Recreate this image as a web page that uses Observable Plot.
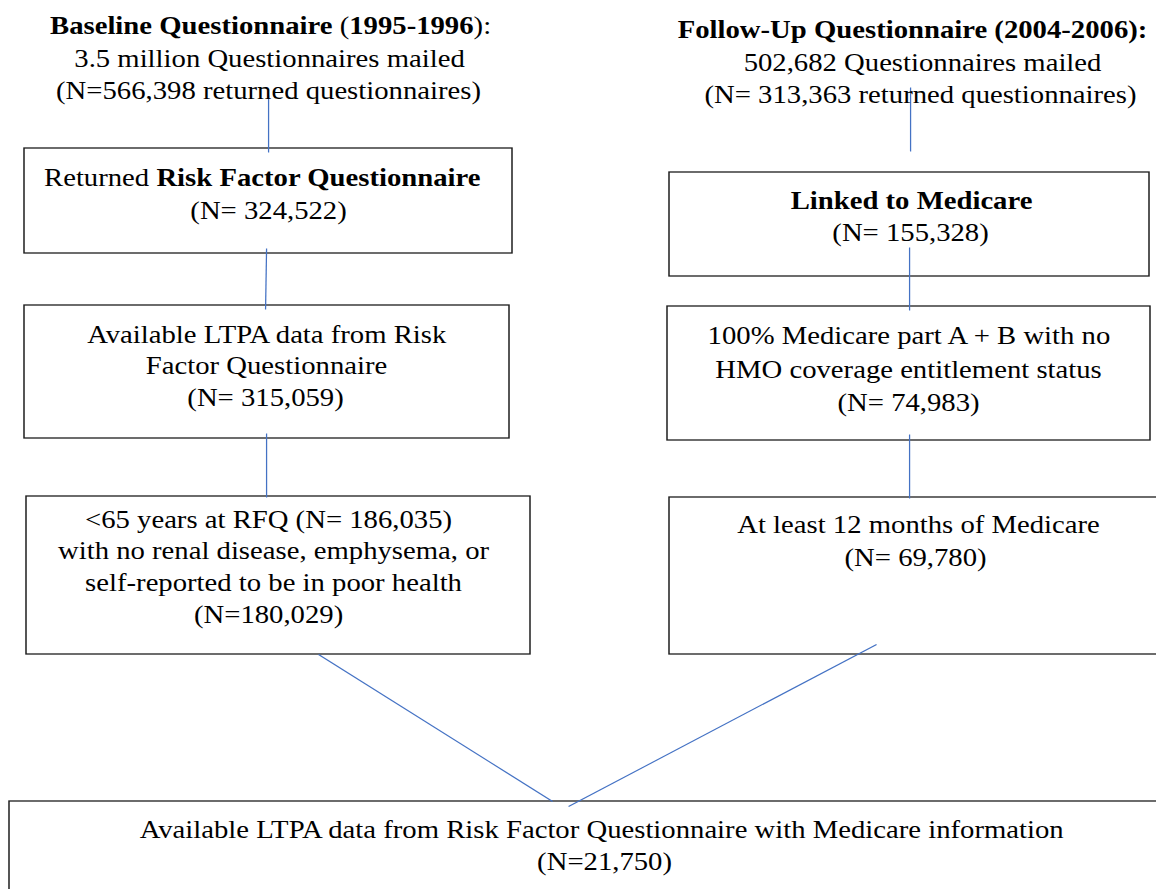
<!DOCTYPE html>
<html><head><meta charset="utf-8">
<script src="https://cdn.jsdelivr.net/npm/d3@7"></script>
<script src="https://cdn.jsdelivr.net/npm/@observablehq/plot@0.6"></script>
<style>html,body{margin:0;padding:0;background:#fff;overflow:hidden;} #chart svg{display:block;}</style>
</head><body><div id="chart"></div>
<script>
// ---- text content (** marks bold runs) ----
const baselineLines = ["**Baseline Questionnaire **(**1995-1996**):", "3.5 million Questionnaires mailed", "(N=566,398 returned questionnaires)"];
const followUpLines = ["**Follow-Up Questionnaire (2004-2006):**", "502,682 Questionnaires mailed", "(N= 313,363 returned questionnaires)"];
const riskFactorLines = ["Returned **Risk Factor Questionnaire**", "(N= 324,522)"];
const ltpaLines = ["Available LTPA data from Risk", "Factor Questionnaire", "(N= 315,059)"];
const ageLines = ["<65 years at RFQ (N= 186,035)", "with no renal disease, emphysema, or", "self-reported to be in poor health", "(N=180,029)"];
const medicareLines = ["**Linked to Medicare**", "(N= 155,328)"];
const partABLines = ["100% Medicare part A + B with no", "HMO coverage entitlement status", "(N= 74,983)"];
const monthsLines = ["At least 12 months of Medicare", "(N= 69,780)"];
const finalLines = ["Available LTPA data from Risk Factor Questionnaire with Medicare information", "(N=21,750)"];

// ---- layout (reference pixel space 1156 x 889) ----
const textLayout = [
  {lines: baselineLines, cx: [270, 269, 268], base: [33, 66, 98]},
  {lines: followUpLines, cx: [912, 922, 920], base: [37, 70, 102]},
  {lines: riskFactorLines, cx: [262, 268], base: [185, 218]},
  {lines: ltpaLines, cx: [267, 266, 265], base: [342, 373, 405]},
  {lines: ageLines, cx: [268, 273, 273, 268], base: [527, 558, 590, 622]},
  {lines: medicareLines, cx: [911, 910], base: [208, 240]},
  {lines: partABLines, cx: [910, 908, 908], base: [343, 377, 410]},
  {lines: monthsLines, cx: [918, 915], base: [532, 565]},
  {lines: finalLines, cx: [602, 604], base: [837, 869]}
];
const boxLayout = [
  {x1: 24, y1: 148, x2: 512, y2: 253},
  {x1: 24, y1: 305, x2: 509, y2: 438},
  {x1: 26, y1: 496, x2: 530, y2: 654},
  {x1: 669, y1: 172, x2: 1149, y2: 276},
  {x1: 667, y1: 306, x2: 1150, y2: 440},
  {x1: 669, y1: 497, x2: 1162, y2: 654},
  {x1: 9, y1: 801, x2: 1170, y2: 900}
];
const linkLayout = [
  {x1: 268, y1: 95, x2: 268, y2: 152},
  {x1: 266, y1: 248, x2: 265, y2: 309},
  {x1: 266, y1: 433, x2: 266, y2: 497},
  {x1: 910, y1: 87, x2: 910, y2: 151},
  {x1: 909, y1: 247, x2: 909, y2: 310},
  {x1: 909, y1: 434, x2: 909, y2: 498},
  {x1: 318, y1: 654, x2: 552, y2: 801},
  {x1: 876, y1: 644, x2: 568, y2: 806}
];

const FONT = "Liberation Serif";
const FS = 25;
const STRETCH = 1.148;
const W = Math.round(1156 / STRETCH);
const H = 889;

const ctx = document.createElement("canvas").getContext("2d");
function measure(t, bold) {
  ctx.font = `${bold ? "bold " : ""}${FS}px "${FONT}"`;
  return ctx.measureText(t).width * (1156 / W);
}
const runs = [];
for (const b of textLayout) {
  b.lines.forEach((line, i) => {
    const parts = line.split("**").map((t, k) => ({text: t, bold: k % 2 === 1})).filter(p => p.text.length);
    const total = d3.sum(parts, p => measure(p.text, p.bold));
    let x = b.cx[i] - total / 2;
    for (const p of parts) {
      runs.push({x, y: b.base[i], text: p.text, bold: p.bold});
      x += measure(p.text, p.bold);
    }
  });
}

const svg = Plot.plot({
  width: W, height: H,
  margin: 0,
  x: {domain: [0, 1156], range: [0, W], axis: null},
  y: {domain: [0, H], range: [0, H], axis: null},
  marks: [
    Plot.rect(boxLayout, {x1: "x1", x2: "x2", y1: "y1", y2: "y2", fill: "white", stroke: "#1e1e1e", strokeWidth: 1.3}),
    Plot.link(linkLayout, {x1: "x1", y1: "y1", x2: "x2", y2: "y2", stroke: "#4472c4", strokeWidth: 1.1}),
    Plot.text(runs.filter(r => !r.bold), {x: "x", y: "y", text: "text", textAnchor: "start", lineAnchor: "bottom", fontFamily: FONT, fontSize: FS, fill: "#000"}),
    Plot.text(runs.filter(r => r.bold), {x: "x", y: "y", text: "text", textAnchor: "start", lineAnchor: "bottom", fontFamily: FONT, fontSize: FS, fontWeight: "bold", fill: "#000"})
  ]
});
svg.setAttribute("width", 1156);
svg.setAttribute("height", H);
svg.setAttribute("preserveAspectRatio", "none");
svg.style.width = "1156px";
svg.style.height = H + "px";
svg.style.maxWidth = "none";
svg.style.background = "#fff";
document.getElementById("chart").appendChild(svg);
</script>
</body></html>
